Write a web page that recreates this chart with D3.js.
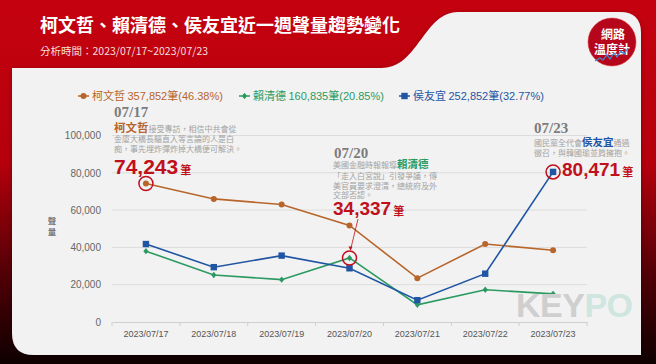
<!DOCTYPE html>
<html><head><meta charset="utf-8">
<script src="https://cdn.jsdelivr.net/npm/d3@7"></script>
<style>html,body{margin:0;padding:0;background:#fff;}svg{display:block;}</style>
</head><body>
<svg id="chart" width="656" height="364"></svg>
<script>
// ---- data ----
const dates = ["2023/07/17","2023/07/18","2023/07/19","2023/07/20","2023/07/21","2023/07/22","2023/07/23"];
const koValues  = [74243, 66000, 63000, 51800, 23500, 41800, 38500];
const laiValues = [38000, 25200, 22700, 34337, 9200, 17300, 15100];
const houValues = [41800, 29400, 35600, 28800, 11700, 25900, 80471];
const seriesNames = ["柯文哲", "賴清德", "侯友宜"];
const seriesTotals = ["357,852筆(46.38%)", "160,835筆(20.85%)", "252,852筆(32.77%)"];
const yTicks = [0, 20000, 40000, 60000, 80000, 100000];
const titleText = "柯文哲、賴清德、侯友宜近一週聲量趨勢變化";
const subtitleText = "分析時間：2023/07/17~2023/07/23";

const colors = ["#b8652b", "#2a9a61", "#1f55a3"];
const series = [koValues, laiValues, houValues].map((v, i) => ({name: seriesNames[i], total: seriesTotals[i], values: v, color: colors[i], idx: i}));

const svg = d3.select("#chart");
const CJK = "'Noto Sans CJK TC','Noto Sans CJK SC',sans-serif";
const NUM = "'Liberation Sans','Noto Sans CJK TC',sans-serif";

// ---- background ----
const defs = svg.append("defs");
const bg = defs.append("linearGradient").attr("id","bg").attr("x1",0).attr("y1",0).attr("x2",0).attr("y2",1);
bg.append("stop").attr("offset","0%").attr("stop-color","#c5020f");
bg.append("stop").attr("offset","45%").attr("stop-color","#b5000c");
bg.append("stop").attr("offset","75%").attr("stop-color","#520006");
bg.append("stop").attr("offset","100%").attr("stop-color","#0e0000");
const f = defs.append("filter").attr("id","sh").attr("x","-5%").attr("y","-5%").attr("width","110%").attr("height","110%");
f.append("feDropShadow").attr("dx",0).attr("dy",1).attr("stdDeviation",2).attr("flood-color","#000").attr("flood-opacity",0.35);

svg.append("rect").attr("width",656).attr("height",364).attr("fill","url(#bg)");
svg.append("path")
  .attr("d","M12,68 L382,68 C418,68 424,12 458,12 L620,12 Q641,12 641,33 L641,355 L34,355 Q12,355 12,333 Z")
  .attr("fill","#f2f2f2").attr("filter","url(#sh)");

// title
svg.append("text").attr("x",40).attr("y",32).attr("fill","#fff").attr("font-family",CJK)
  .attr("font-weight","bold").attr("font-size",18).text(titleText);
svg.append("text").attr("x",40).attr("y",55).attr("fill","#f6dede").attr("font-family",CJK)
  .attr("font-size",10.5).text(subtitleText);

// logo
const logo = svg.append("g").attr("transform","translate(612,42)");
logo.append("circle").attr("r",24).attr("fill","#b5061c").attr("stroke","#d33").attr("stroke-width",0.5);
const logoT = logo.append("text").attr("text-anchor","middle").attr("fill","#fff").attr("font-family",CJK)
  .attr("font-weight","bold").attr("font-size",12);
logoT.append("tspan").attr("x",1).attr("y",-3).text("網路");
logoT.append("tspan").attr("x",0).attr("y",12).text("溫度計");
logo.append("path").attr("d","M-17,19 L-12,16 L-9,18 L-5,13 L-2,17 L2,11 L5,15 L9,9 L12,12 L16,6")
  .attr("fill","none").attr("stroke","#3f8ed8").attr("stroke-width",1.2);

// ---- scales ----
const x = d3.scaleBand().domain(dates).range([112, 587]);
const cx = d => x(d) + x.bandwidth()/2;
const y = d3.scaleLinear().domain([0, 100000]).range([322, 135.5]);

// gridlines
svg.append("g").selectAll("line").data(yTicks.filter(t => t > 0)).join("line")
  .attr("x1",112).attr("x2",587).attr("y1",d=>y(d)).attr("y2",d=>y(d))
  .attr("stroke","#dcdcdc").attr("stroke-width",1);

// y axis labels
const yAxis = svg.append("g").attr("transform","translate(104,0)")
  .call(d3.axisLeft(y).tickValues(yTicks).tickSize(0).tickFormat(d3.format(",")));
yAxis.select(".domain").remove();
yAxis.selectAll("text").attr("font-family",NUM).attr("font-size",10).attr("fill","#666").attr("dx",0);

// y axis title (vertical)
svg.append("text").attr("x",52).attr("y",217).attr("font-family",CJK)
  .attr("font-size",8.5).attr("font-weight","bold").attr("fill","#777")
  .attr("writing-mode","vertical-rl").attr("letter-spacing",2).text("聲量");

// x axis
const xAxis = svg.append("g").attr("transform","translate(0,322)")
  .call(d3.axisBottom(x).tickSize(0).tickPadding(9));
xAxis.select(".domain").attr("stroke","#cfcfcf");
xAxis.selectAll("text").attr("font-family",NUM).attr("font-size",9).attr("fill","#555");
svg.append("g").selectAll("line").data(dates.map(d => x(d)).concat([x(dates[dates.length-1]) + x.bandwidth()])).join("line")
  .attr("x1",d=>d).attr("x2",d=>d).attr("y1",322).attr("y2",326).attr("stroke","#cfcfcf");

// ---- lines ----
const line = d3.line().x((v,i)=>cx(dates[i])).y(v=>y(v));
const gS = svg.append("g");
series.forEach(s => {
  gS.append("path").attr("d", line(s.values)).attr("fill","none").attr("stroke",s.color).attr("stroke-width",1.6);
});
function marker(g, idx, px, py, col) {
  if (idx === 0) g.append("circle").attr("cx",px).attr("cy",py).attr("r",3).attr("fill",col);
  else if (idx === 1) g.append("path").attr("d",`M${px},${py-3.2}L${px+2.6},${py}L${px},${py+3.2}L${px-2.6},${py}Z`).attr("fill",col);
  else g.append("rect").attr("x",px-3.2).attr("y",py-3.2).attr("width",6.4).attr("height",6.4).attr("fill",col);
}
series.forEach(s => s.values.forEach((v,i) => marker(gS, s.idx, cx(dates[i]), y(v), s.color)));

// ---- legend ----
const legX = [78, 239, 399];
series.forEach((s,i) => {
  const g = svg.append("g").attr("transform",`translate(${legX[i]},96)`);
  g.append("line").attr("x1",0).attr("x2",11).attr("stroke",s.color).attr("stroke-width",1.5);
  marker(g, s.idx, 5.5, 0, s.color);
  const tt = g.append("text").attr("x",14).attr("y",4).attr("font-size",11).attr("fill",s.color).attr("font-family",NUM);
  const parts = s.total.split("筆");
  tt.append("tspan").attr("font-family",CJK).text(s.name + " ");
  tt.append("tspan").text(parts[0]);
  tt.append("tspan").attr("font-family",CJK).text("筆");
  tt.append("tspan").text(parts[1]);
});

// ---- annotations ----
const red = "#c0101c";
const gray = "#a3a3a3";
const ann = svg.append("g");
function dateLabel(xp, yp, txt) {
  ann.append("text").attr("x",xp).attr("y",yp).attr("font-family","'Liberation Serif','DejaVu Serif',serif")
    .attr("font-weight","bold").attr("font-size",15).attr("fill","#7c7c7c").text(txt);
}
function grayBlock(xp, rows) {
  const t = ann.append("text").attr("font-family",CJK).attr("font-size",8).attr("fill",gray);
  rows.forEach(r => {
    r.pieces.forEach((p, k) => {
      const ts = t.append("tspan").text(p.t);
      if (k === 0) ts.attr("x", xp).attr("y", r.y);
      if (p.c) ts.attr("fill",p.c).attr("font-weight","bold").attr("font-size",p.s || 10.5);
    });
  });
}
function bigNum(xp, yp, num, size) {
  const t = ann.append("text").attr("x",xp).attr("y",yp).attr("fill",red).attr("font-weight","bold");
  t.append("tspan").attr("font-family",NUM).attr("font-size",size).text(d3.format(",")(num));
  t.append("tspan").attr("font-family",CJK).attr("font-size",11).attr("dx",2).text("筆");
}
function ring(i, v) {
  ann.append("circle").attr("cx",cx(dates[i])).attr("cy",y(v)).attr("r",7)
    .attr("fill","none").attr("stroke",red).attr("stroke-width",1.5);
}

// 07/17
dateLabel(114, 117, "07/17");
grayBlock(114, [
  {y:132, pieces:[{t:"柯文哲", c:colors[0], s:11.5}, {t:"接受專訪，相信中共會從"}]},
  {y:142, pieces:[{t:"金廈大橋長驅直入等言論的人是白"}]},
  {y:151.5, pieces:[{t:"痴，事先埋炸彈炸掉大橋便可解決。"}]}
]);
bigNum(114, 174, koValues[0], 21);
ring(0, koValues[0]);

// 07/20
dateLabel(334, 158, "07/20");
grayBlock(333, [
  {y:168, pieces:[{t:"美國金融時報報導"}, {t:"賴清德", c:colors[1], s:10.5}]},
  {y:178.5, pieces:[{t:"「走入白宮說」引發爭議，傳"}]},
  {y:188.5, pieces:[{t:"美官員要求澄清，總統府及外"}]},
  {y:198, pieces:[{t:"交部否認。"}]}
]);
bigNum(333, 215, laiValues[3], 19);
ring(3, laiValues[3]);
ann.append("line").attr("x1",358).attr("y1",219).attr("x2",cx(dates[3])+1).attr("y2",y(laiValues[3])-8)
  .attr("stroke",red).attr("stroke-width",0.8);
ann.append("path").attr("d",`M${cx(dates[3])+1},${y(laiValues[3])-7.5} l-2,-4 l4,0 z`).attr("fill",red);

// 07/23
dateLabel(534, 133, "07/23");
grayBlock(534, [
  {y:146, pieces:[{t:"國民黨全代會"}, {t:"侯友宜", c:colors[2], s:10.5}, {t:"通過"}]},
  {y:156, pieces:[{t:"徵召，與韓國瑜並肩擁抱。"}]}
]);
bigNum(562, 176, houValues[6], 19);
ring(6, houValues[6]);

// watermark
const wm = svg.append("text").attr("x",516).attr("y",317).attr("font-family","'Liberation Sans',sans-serif")
  .attr("font-weight","bold").attr("font-size",34).attr("letter-spacing",-0.5);
wm.append("tspan").attr("fill","#cfcfcf").text("KEY");
wm.append("tspan").attr("fill","#cfe6e0").text("PO");
</script>
</body></html>
